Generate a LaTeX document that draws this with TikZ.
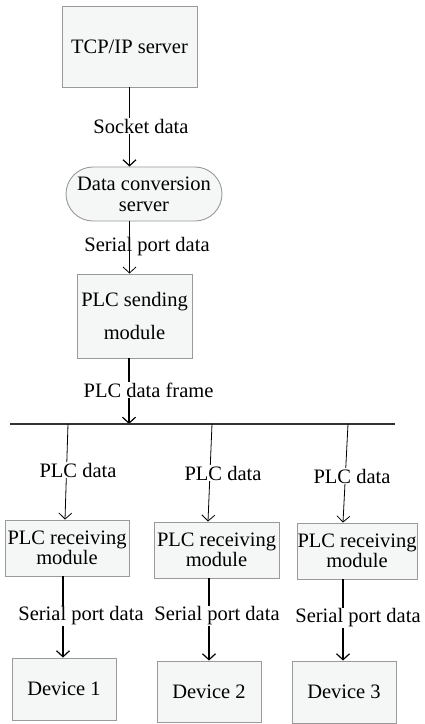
\documentclass[tikz,border=0pt]{standalone}
\usepackage{fontspec}
\setmainfont{Liberation Serif}
\usetikzlibrary{arrows.meta,shapes.misc}
\definecolor{boxfill}{HTML}{F5F7F7}
\definecolor{boxline}{HTML}{9A9A9A}
\tikzset{
  box/.style={draw=boxline,line width=0.9pt,fill=boxfill,inner sep=0pt,align=center,font=\fontsize{20.5}{18}\selectfont},
  lbl/.style={fill=white,inner sep=0.5pt,font=\fontsize{20.5}{20}\selectfont},
  thick arr/.style={line width=1.4pt,-{Straight Barb[length=6pt,width=13pt,line width=1.2pt]}},
  thin arr/.style={line width=0.8pt,-{Straight Barb[length=6pt,width=13pt,line width=0.8pt]}},
}
\begin{document}
\begin{tikzpicture}[x=1pt,y=-1pt]
\useasboundingbox (0,0) rectangle (424,724);
% nodes
\node[box,minimum width=135pt,minimum height=81pt] (tcp) at (129.5,46.5) {TCP/IP server};
\node[box,rounded rectangle,minimum width=156pt,minimum height=54pt,font=\fontsize{20.5}{21}\selectfont] (dcs) at (144,194) {Data conversion\\server};
\node[box,minimum width=115pt,minimum height=84pt,font=\fontsize{20.5}{33}\selectfont] (send) at (134.5,316) {PLC sending\\module};
\node[box,minimum width=124pt,minimum height=56pt] (r1) at (67,548) {PLC receiving\\module};
\node[box,minimum width=125pt,minimum height=56pt] (r2) at (216.5,550) {PLC receiving\\module};
\node[box,minimum width=120pt,minimum height=56pt] (r3) at (357,551) {PLC receiving\\module};
\node[box,minimum width=104pt,minimum height=62pt] (d1) at (64,689) {Device 1};
\node[box,minimum width=104pt,minimum height=61pt] (d2) at (209,691.5) {Device 2};
\node[box,minimum width=104pt,minimum height=62pt] (d3) at (344,692) {Device 3};
% bus
\coordinate (busL) at (10,424);
\coordinate (busR) at (395,424);
\coordinate (b0) at (129,424);
\coordinate (b1) at (68,424);
\coordinate (b2) at (212,424);
\coordinate (b3) at (348,424);
% connectors
\draw[thick arr] (tcp.south) -- (tcp.south |- dcs.north);
\draw[thin arr] (tcp.south |- dcs.south) -- (tcp.south |- send.north);
\draw[thick arr] (send.south -| b0) -- (b0);
\draw[line width=1.8pt,draw=black!80] (busL) -- (busR);
\draw[thin arr] (b1) -- ([xshift=-2pt]r1.north);
\draw[thin arr] (b2) -- ([xshift=-8.5pt]r2.north);
\draw[thin arr] (b3) -- ([xshift=-14pt]r3.north);
\draw[thick arr] ([xshift=-4pt]r1.south) -- ([xshift=-1pt]d1.north);
\draw[thick arr] ([xshift=-7.5pt]r2.south) -- (d2.north);
\draw[thick arr] ([xshift=-14pt]r3.south) -- ([xshift=-1pt]d3.north);
% labels
\node[lbl] (l1) at (141,126) {Socket data};
\node[lbl,fill=none] (l2) at (147,247) {Serial port data};
\node[lbl] (l3) at (148.5,390) {PLC data frame};
\node[lbl] (l4) at (78,470) {PLC data};
\node[lbl] (l5) at (223,473) {PLC data};
\node[lbl] (l6) at (352,476) {PLC data};
\node[lbl] (l7) at (81,616) {Serial port data};
\node[lbl] (l8) at (217,616) {Serial port data};
\node[lbl] (l9) at (358,618) {Serial port data};
\end{tikzpicture}
\end{document}
